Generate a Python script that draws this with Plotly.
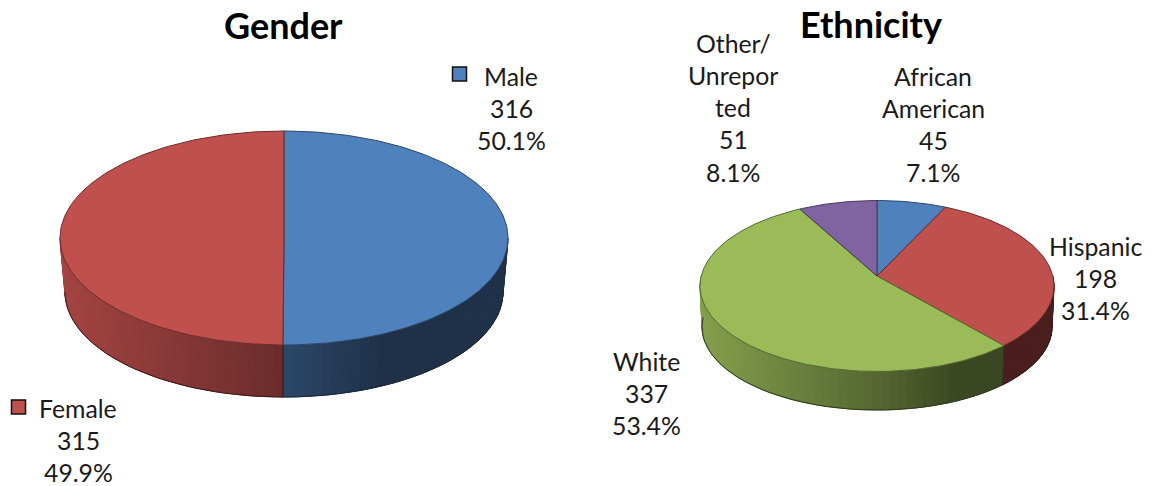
import math
import plotly.graph_objects as go

# ---- data ----
gender_labels = ["Male", "Female"]
gender_values = [316, 315]
gender_pct = ["50.1%", "49.9%"]
ethnicity_labels = ["African American", "Hispanic", "White", "Other/Unreported"]
ethnicity_values = [45, 198, 337, 51]
ethnicity_pct = ["7.1%", "31.4%", "53.4%", "8.1%"]

# ---- style / geometry ----
BLUE, RED, GREEN, PURPLE = "#4F81BD", "#C0504D", "#9BBB59", "#8064A2"
FONT = "Lato"
TXT = "#1a1a1a"
GENDER_GEO = dict(cx=284, cy=238, rx=224, ry=107, apex=238, rxb=219, ryb=105, cyb=292)
ETH_GEO = dict(cx=877, cy=286, rx=177, ry=85.5, apex=276, rxb=175, ryb=83, cyb=327)


def hex_rgb(c):
    return tuple(int(c[i:i + 2], 16) for i in (1, 3, 5))


def scaled(c, k):
    return "rgb(%d,%d,%d)" % tuple(round(v * k) for v in hex_rgb(c))


def rim(g, deg):
    """Point on the top ellipse along the ray from the apex (perspective)."""
    t = math.radians(deg)
    dx, dy = g["rx"] * math.sin(t), -g["ry"] * math.cos(t)
    off = g["apex"] - g["cy"]
    a = (dx / g["rx"]) ** 2 + (dy / g["ry"]) ** 2
    b = 2 * off * dy / g["ry"] ** 2
    c = (off / g["ry"]) ** 2 - 1
    s = (-b + math.sqrt(b * b - 4 * a * c)) / (2 * a)
    return g["cx"] + dx * s, g["apex"] + dy * s


def low(g, x, y):
    return (g["cx"] + (x - g["cx"]) * g["rxb"] / g["rx"],
            g["cyb"] + (y - g["cy"]) * g["ryb"] / g["ry"])


def shade(f):
    stops = [(0, .85), (.5, .55), (.72, .38), (1, .38)]
    for (a, ka), (b, kb) in zip(stops, stops[1:]):
        if f <= b:
            return ka + (kb - ka) * (f - a) / (b - a)
    return .38


fig = go.Figure()


def poly(xs, ys, fill=None, line=None, width=1.0):
    fig.add_trace(go.Scatter(
        x=xs, y=ys, mode="lines", hoverinfo="skip", showlegend=False,
        fill="toself" if fill else None, fillcolor=fill,
        line=dict(color=line or "rgba(0,0,0,0)", width=width)))


def draw_pie(g, values, colors):
    total = sum(values)
    edges = [0]
    for v in values:
        edges.append(edges[-1] + 360 * v / total)
    # side wall: only the front half, painted as narrow shaded strips
    for i, col in enumerate(colors):
        a, b = max(edges[i], 90), min(edges[i + 1], 270)
        if a >= b:
            continue
        n = max(2, int((b - a) / 2.5))
        for j in range(n):
            t0, t1 = a + (b - a) * j / n, a + (b - a) * (j + 1) / n
            x0, y0 = rim(g, t0)
            x1, y1 = rim(g, t1)
            bx0, by0 = low(g, x0, y0)
            bx1, by1 = low(g, x1, y1)
            f = ((x0 + x1) / 2 - (g["cx"] - g["rx"])) / (2 * g["rx"])
            c = scaled(col, shade(f))
            poly([x0, x1, bx1, bx0, x0], [y0, y1, by1, by0, y0], fill=c, line=c, width=1)
        # bottom edge of this slice
        ts = [a + (b - a) * k / 40 for k in range(41)]
        pts = [low(g, *rim(g, t)) for t in ts]
        poly([p[0] for p in pts], [p[1] for p in pts], line=scaled(col, .3), width=1)
        # front dividers
        for t in (a, b):
            if 90 < t < 270:
                x, y = rim(g, t)
                bx, by = low(g, x, y)
                poly([x, bx], [y, by], line=scaled(col, .3), width=1)
    # top face
    for i, col in enumerate(colors):
        a, b = edges[i], edges[i + 1]
        n = max(6, int(b - a))
        pts = [rim(g, a + (b - a) * k / n) for k in range(n + 1)]
        xs = [g["cx"]] + [p[0] for p in pts] + [g["cx"]]
        ys = [g["apex"]] + [p[1] for p in pts] + [g["apex"]]
        poly(xs, ys, fill=col, line=scaled(col, .55), width=1)


draw_pie(GENDER_GEO, gender_values, [BLUE, RED])
draw_pie(ETH_GEO, ethnicity_values, [BLUE, RED, GREEN, PURPLE])

# legend keys
fig.add_trace(go.Scatter(
    x=[459.5, 18.5], y=[74, 407], mode="markers", hoverinfo="skip", showlegend=False,
    marker=dict(symbol="square", size=14, color=[BLUE, RED],
                line=dict(color="#111111", width=1.5))))

ann = []


def txt(x, y, s, size=24.8, bold=False):
    ann.append(dict(x=x, y=y, xref="x", yref="y", text=("<b>%s</b>" % s) if bold else s,
                    showarrow=False, xanchor="center", yanchor="middle",
                    font=dict(family=FONT, size=size, color="#000000" if bold else TXT)))


def block(x, y, lines, step=32.3):
    for k, s in enumerate(lines):
        txt(x, y + k * step, s)


txt(283, 25, "Gender", 36, True)
txt(871, 24, "Ethnicity", 36, True)
block(511, 76, [gender_labels[0], str(gender_values[0]), gender_pct[0]])
block(78, 408, [gender_labels[1], str(gender_values[1]), gender_pct[1]])
block(733, 43, ["Other/", "Unrepor", "ted", str(ethnicity_values[3]), ethnicity_pct[3]])
block(933, 76, ["African", "American", str(ethnicity_values[0]), ethnicity_pct[0]])
block(1095, 246, [ethnicity_labels[1], str(ethnicity_values[1]), ethnicity_pct[1]])
block(646, 361, [ethnicity_labels[2], str(ethnicity_values[2]), ethnicity_pct[2]])

fig.update_layout(
    width=1156, height=486, margin=dict(l=0, r=0, t=0, b=0),
    paper_bgcolor="white", plot_bgcolor="white", showlegend=False,
    xaxis=dict(range=[0, 1156], visible=False, fixedrange=True),
    yaxis=dict(range=[486, 0], visible=False, fixedrange=True),
    annotations=ann)
fig.write_html("out.html", config={"displayModeBar": False},
               post_script="document.body.style.margin='0';document.documentElement.style.overflow='hidden';")
